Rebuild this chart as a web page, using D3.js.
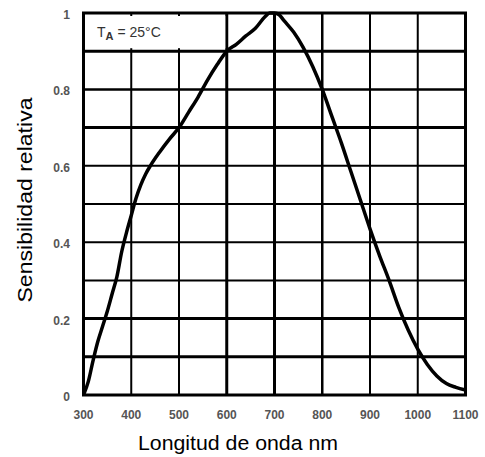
<!DOCTYPE html>
<html><head><meta charset="utf-8">
<script src="https://cdn.jsdelivr.net/npm/d3@7"></script>
<style>body{margin:0;background:#fff}svg{display:block}</style>
</head><body>
<svg id="c" width="485" height="457"></svg>
<script>
const wavelengths = [300,310,320,330,340,350,360,370,380,390,400,410,420,430,440,460,480,500,520,540,560,580,600,620,640,660,680,690,700,710,720,740,760,780,800,820,840,860,880,900,920,940,960,980,1000,1020,1040,1060,1080,1100];
const sensitivity = [0,0.035,0.09,0.14,0.18,0.22,0.265,0.31,0.375,0.425,0.47,0.515,0.55,0.578,0.60,0.637,0.67,0.70,0.74,0.78,0.825,0.865,0.90,0.918,0.94,0.96,0.99,1.0,1.0,0.995,0.98,0.95,0.91,0.86,0.80,0.73,0.66,0.585,0.51,0.435,0.365,0.30,0.23,0.17,0.12,0.08,0.05,0.03,0.02,0.013];
const xTicks = [300,400,500,600,700,800,900,1000,1100];
const yGrid = [0,0.1,0.2,0.3,0.4,0.5,0.6,0.7,0.8,0.9,1];
const yTickLabels = [[0,"0"],[0.2,"0.2"],[0.4,"0.4"],[0.6,"0.6"],[0.8,"0.8"],[1,"1"]];
const thickX = [600,700];
const thickY = [0.1,0.2,0.7,0.9];

const svg = d3.select("#c");
const x = d3.scaleLinear().domain([300,1100]).range([83.5,465.5]);
const y = d3.scaleLinear().domain([0,1]).range([395,13]);

// grid
const g = svg.append("g");
g.selectAll(".vx").data(xTicks).enter().append("line")
  .attr("x1",d=>x(d)).attr("x2",d=>x(d)).attr("y1",y(0)).attr("y2",y(1))
  .attr("stroke","#000").attr("stroke-width",d=>thickX.includes(d)?3:(d===800?2.5:2));
g.selectAll(".hy").data(yGrid).enter().append("line")
  .attr("y1",d=>y(d)).attr("y2",d=>y(d)).attr("x1",x(300)).attr("x2",x(1100))
  .attr("stroke","#000").attr("stroke-width",d=>thickY.includes(d)?3:(d===0.8?2.5:2));

// white label box covering the cell 300-600 / 0.9-1.0
svg.append("rect").attr("x",x(300)+1.5).attr("y",y(1)+3).attr("width",x(600)-x(300)-3).attr("height",y(0.9)-y(1)-6).attr("fill","#fff");
const lbl = svg.append("text").attr("x",97).attr("y",y(1)+24)
  .attr("font-family","Liberation Sans, Arial, sans-serif").attr("font-size",14).attr("fill","#333");
lbl.append("tspan").text("T");
lbl.append("tspan").attr("font-size",11).attr("font-weight","bold").attr("dy",3).text("A");
lbl.append("tspan").attr("dy",-3).text(" = 25°C");

// border
svg.append("rect").attr("x",x(300)).attr("y",y(1)).attr("width",x(1100)-x(300)).attr("height",y(0)-y(1))
  .attr("fill","none").attr("stroke","#000").attr("stroke-width",3);

// curve
const line = d3.line().x((d,i)=>x(wavelengths[i])).y(d=>y(d)).curve(d3.curveMonotoneX);
svg.append("path").datum(sensitivity).attr("d",line).attr("fill","none")
  .attr("stroke","#000").attr("stroke-width",3.5).attr("stroke-linejoin","round");

// tick labels
const tf = "Liberation Sans, Arial, sans-serif";
svg.selectAll(".xt").data(xTicks).enter().append("text")
  .attr("x",d=>x(d)).attr("y",419).attr("text-anchor","middle")
  .attr("font-family",tf).attr("font-size",12).attr("font-weight","bold").attr("fill","#555").text(d=>d);
svg.selectAll(".yt").data(yTickLabels).enter().append("text")
  .attr("x",70).attr("y",d=>y(d[0])+6).attr("text-anchor","end")
  .attr("font-family",tf).attr("font-size",12).attr("font-weight","bold").attr("fill","#555").text(d=>d[1]);

// axis titles
svg.append("text").attr("x",238).attr("y",450).attr("text-anchor","middle")
  .attr("font-family",tf).attr("font-size",20).attr("fill","#000")
  .attr("textLength",200).attr("lengthAdjust","spacingAndGlyphs").text("Longitud de onda nm");
svg.append("text").attr("transform","translate(32,200) rotate(-90)").attr("text-anchor","middle")
  .attr("font-family",tf).attr("font-size",20).attr("fill","#000")
  .attr("textLength",205).attr("lengthAdjust","spacingAndGlyphs").text("Sensibilidad relativa");
</script>
</body></html>
